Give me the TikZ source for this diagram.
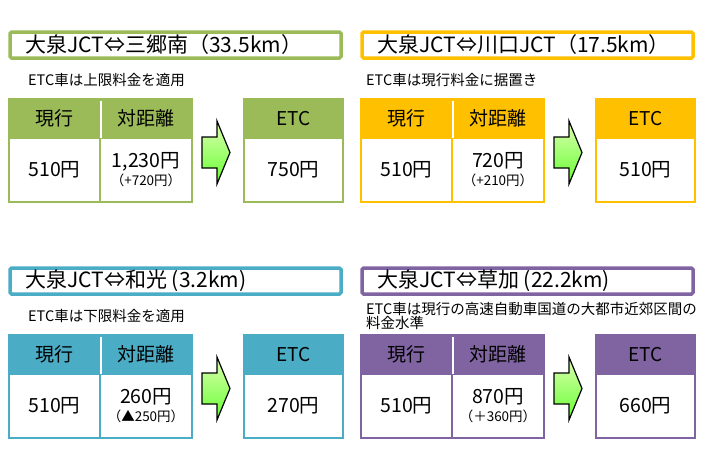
\documentclass[tikz,border=0pt]{standalone}
\usepackage{fontspec}
\setmainfont{Noto Sans CJK JP}
\usetikzlibrary{positioning}
\definecolor{olivegreen}{HTML}{9BBB59}
\definecolor{ambergold}{HTML}{FFC000}
\definecolor{seablue}{HTML}{4BACC6}
\definecolor{violetgrey}{HTML}{8064A2}
\definecolor{arrowlight}{HTML}{DDFFB0}
\definecolor{arrowdark}{HTML}{66FF33}
\newcommand{\notefont}{\fontsize{13.5}{14}\selectfont}
\tikzset{
  title box/.style={
    draw=#1, line width=3.5pt, fill=white, rounded corners=1.5pt,
    minimum width=331pt, minimum height=26pt
  },
  title text/.style={font=\fontsize{21}{24}\selectfont, inner sep=0pt, anchor=west},
  note text/.style={font=\fontsize{14.5}{13.5}\selectfont, inner sep=0pt, anchor=west, align=left},
  head cell/.style={
    draw=#1, fill=#1, line width=2pt, minimum height=39pt, inner sep=0pt,
    font=\fontsize{19}{20}\selectfont
  },
  body cell/.style={
    draw=#1, fill=white, line width=2pt, minimum height=64pt, inner sep=0pt,
    align=center, font=\fontsize{19.5}{21}\selectfont
  },
  green arrow/.style={draw=black, line width=1.2pt, top color=arrowlight, bottom color=arrowdark},
}
% #1 name, #2 shift, #3 colour, #4 title, #5 note, #6 fare, #7 difference, #8 ETC fare, #9 note x
\newcommand{\farepanel}[9]{%
  \begin{scope}[shift={#2}]
  \node[title box=#3] (#1title) at (175.5,45) {};
  \node[title text] (#1name) at ([xshift=17pt]#1title.west) {#4};
  \node[note text] (#1note) at (#9,80) {#5};
  \node[head cell=#3, minimum width=91pt] (#1nowhead) at (54.5,118.5) {現行};
  \node[head cell=#3, minimum width=92pt] (#1disthead) at (146,118.5) {対距離};
  \node[body cell=#3, minimum width=91pt] (#1now) at (54.5,170) {510円};
  \node[body cell=#3, minimum width=92pt] (#1dist) at (146,170) {#6\\[-3pt]{\notefont #7}};
  \draw[white, line width=2pt] ([yshift=-3pt]#1nowhead.north east) -- ([yshift=1pt]#1nowhead.south east);
  \node[head cell=#3, minimum width=99pt] (#1etchead) at (293.5,118.5) {ETC};
  \node[body cell=#3, minimum width=99pt] (#1etc) at (293.5,170) {#8};
  \shade[green arrow] (202,137) -- (217,137) -- (217,121) -- (230,152.5)
    -- (217,184) -- (217,168) -- (202,168) -- cycle;
  \end{scope}}

\begin{document}
\begin{tikzpicture}[x=1pt, y=-1pt]
\useasboundingbox (0,0) rectangle (710,474);
\farepanel{misato}{(0,0)}{olivegreen}{大泉JCT⇔三郷南（33.5km）}{ETC車は上限料金を適用}{1,230円}{（+720円）}{750円}{28}
\farepanel{kawaguchi}{(352,0)}{ambergold}{大泉JCT⇔川口JCT（17.5km）}{ETC車は現行料金に据置き}{720円}{（+210円）}{510円}{14}
\farepanel{wako}{(0,236)}{seablue}{大泉JCT⇔和光 (3.2km)}{ETC車は下限料金を適用}{260円}{（▲250円）}{270円}{28}
\farepanel{soka}{(352,236)}{violetgrey}{大泉JCT⇔草加 (22.2km)}{ETC車は現行の高速自動車国道の大都市近郊区間の\\料金水準}{870円}{（＋360円）}{660円}{14}
\end{tikzpicture}
\end{document}
